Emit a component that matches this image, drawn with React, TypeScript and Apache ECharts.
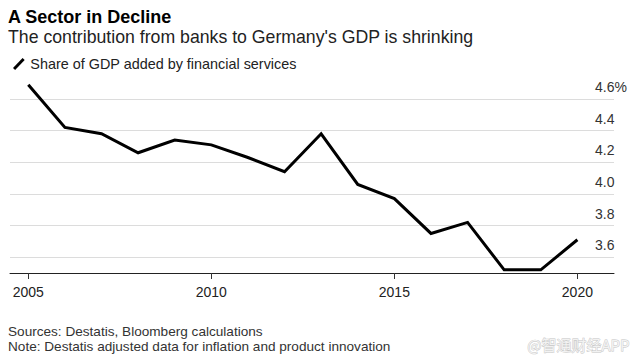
import React, { useEffect, useRef } from "react";
import * as echarts from "echarts";

const years = [2005, 2006, 2007, 2008, 2009, 2010, 2011, 2012, 2013, 2014, 2015, 2016, 2017, 2018, 2019, 2020];
const shares = [4.69, 4.42, 4.38, 4.26, 4.34, 4.31, 4.23, 4.14, 4.38, 4.06, 3.97, 3.75, 3.82, 3.52, 3.52, 3.71];
const yTicks = [3.6, 3.8, 4.0, 4.2, 4.4, 4.6];
const xTicks = [2005, 2010, 2015, 2020];

const FONT = "'Liberation Sans', Arial, sans-serif";

export default function App() {
  const ref = useRef<HTMLDivElement>(null);
  useEffect(() => {
    if (!ref.current) return;
    const chart = echarts.init(ref.current, null, { renderer: "svg" });
    chart.setOption({
      animation: false,
      backgroundColor: "#fff",
      textStyle: { fontFamily: FONT },
      grid: { left: 10, right: 22, top: 80, bottom: 88 },
      legend: {
        left: 8,
        top: 52,
        itemWidth: 13,
        itemHeight: 12,
        itemGap: 6,
        icon: "path://M0,10.5 L9,1 L11,2.8 L2,12.3 Z",
        textStyle: { fontSize: 14.4, color: "#222", fontFamily: FONT },
        data: ["Share of GDP added by financial services"],
      },
      xAxis: {
        type: "value",
        min: 2004.5,
        max: 2021,
        axisLine: { show: true, lineStyle: { color: "#222", width: 1 } },
        axisTick: { show: true, length: 6, lineStyle: { color: "#333" }, customValues: xTicks },
        axisLabel: { customValues: xTicks, fontSize: 14, color: "#222", margin: 12, formatter: (v: number) => String(v) },
        splitLine: { show: false },
      },
      yAxis: {
        type: "value",
        position: "right",
        min: 3.5,
        max: 4.72,
        axisLine: { show: false },
        axisTick: { show: false, customValues: yTicks },
        axisLabel: {
          customValues: yTicks,
          fontSize: 14,
          color: "#333",
          align: "left",
          verticalAlign: "bottom",
          padding: [0, 0, 5, 0],
          margin: -19,
          formatter: (v: number) => (Math.abs(v - 4.6) < 1e-9 ? "4.6%" : v.toFixed(1)),
        },
        splitLine: { show: true, lineStyle: { color: "#dcdcdc", width: 1 } },
      },
      series: [
        {
          name: "Share of GDP added by financial services",
          type: "line",
          data: years.map((y, i) => [y, shares[i]]),
          showSymbol: false,
          symbol: "none",
          color: "#000",
          lineStyle: { color: "#000", width: 3, join: "miter" },
        },
      ],
      graphic: [
        {
          type: "text",
          left: 8,
          top: 8,
          style: { text: "A Sector in Decline", font: `bold 18px ${FONT}`, fill: "#000" },
        },
        {
          type: "text",
          left: 8,
          top: 28,
          style: { text: "The contribution from banks to Germany's GDP is shrinking", font: `17.7px ${FONT}`, fill: "#222" },
        },
        {
          type: "text",
          left: 8,
          top: 324,
          style: { text: "Sources: Destatis, Bloomberg calculations", font: `13.6px ${FONT}`, fill: "#333" },
        },
        {
          type: "text",
          left: 8,
          top: 339,
          style: { text: "Note: Destatis adjusted data for inflation and product innovation", font: `13.6px ${FONT}`, fill: "#333" },
        },
        {
          type: "text",
          right: 6,
          top: 337,
          style: { text: "@智通财经APP", font: `15px 'Noto Sans CJK SC', sans-serif`, fill: "#f2f2f2", stroke: "#c4c4c4", lineWidth: 0.8 },
        },
      ],
    });
    return () => chart.dispose();
  }, []);
  return <div ref={ref} style={{ position: "fixed", left: 0, top: 0, width: 636, height: 361 }} />;
}
